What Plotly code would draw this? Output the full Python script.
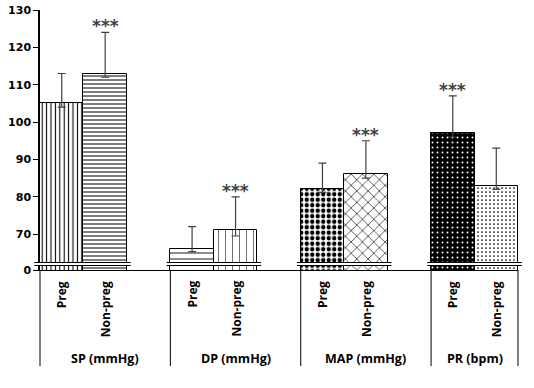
import plotly.graph_objects as go

# ---- data ----
categories = ["SP (mmHg)", "DP (mmHg)", "MAP (mmHg)", "PR (bpm)"]
groups = ["Preg", "Non-preg"]
preg_means = [105, 66, 82, 97]
nonpreg_means = [113, 71, 86, 83]
preg_sd = [8, 6, 7, 10]
nonpreg_sd = [11, 9, 9, 10]
preg_low = [1, 0.7, 0.8, 1]
nonpreg_low = [1, 1.5, 1, 1]
preg_sig = ["", "", "", "***"]
nonpreg_sig = ["***", "***", "***", ""]
y_ticks = [70, 80, 90, 100, 110, 120, 130]
y_zero_pos = 60.4  # where the broken axis shows "0"

# ---- layout helpers ----
W, H = 534, 388
L, R, T, B = 40, 16, 10, 118
ph = H - T - B
nslots = 11

xs, ys, ers, erm, sig = [], [], [], [], []
for i in range(len(categories)):
    xs += [3 * i, 3 * i + 1]
    ys += [preg_means[i], nonpreg_means[i]]
    ers += [preg_sd[i], nonpreg_sd[i]]
    erm += [preg_low[i], nonpreg_low[i]]
    sig += [preg_sig[i], nonpreg_sig[i]]

shapes_ = ["|", "-", "-", "|", ".", "x", ".", "."]
fg = ["black", "black", "black", "#333333", "black", "black", "white", "black"]
bg = ["white", "white", "white", "white", "white", "white", "black", "white"]
sizes = [4.4, 4, 6, 7, 5.5, 8, 5, 4]
solid = [0.25, 0.25, 0.15, 0.1, 0.5, 0.15, 0.12, 0.15]

fig = go.Figure()
fig.add_trace(go.Bar(
    x=xs, y=ys, width=1,
    marker=dict(color="white", line=dict(color="black", width=1),
                pattern=dict(shape=shapes_, fgcolor=fg, bgcolor=bg, size=sizes,
                             solidity=solid, fillmode="replace")),
    error_y=dict(type="data", array=ers, arrayminus=erm, symmetric=False,
                 color="#404040", thickness=1.2, width=4),
    showlegend=False, hoverinfo="skip",
))

ann = []
for x, y, e, s in zip(xs, ys, ers, sig):
    if s:
        ann.append(dict(x=x, y=y + e, text=s, showarrow=False, yanchor="bottom", yshift=-6,
                        font=dict(family="DejaVu Sans", size=17, color="#404040", weight="bold")))

def py2paper(py):
    return (T + ph - py) / ph

def sx2paper(sx):
    return (sx + 0.5) / nslots

for i, c in enumerate(categories):
    for j, g in enumerate(groups):
        ann.append(dict(x=3 * i + j, y=py2paper(279), xref="x", yref="paper", text=g,
                        textangle=-90, showarrow=False, yanchor="top", xanchor="center",
                        font=dict(family="Open Sans", size=12, color="black", weight="bold")))
    lo = 3 * i - 0.5
    hi = min(3 * i + 2.5, nslots - 0.5)
    ann.append(dict(x=(lo + hi) / 2, y=py2paper(358), xref="x", yref="paper", text=c,
                    showarrow=False, yanchor="middle",
                    font=dict(family="Open Sans", size=12.5, color="black", weight="bold")))

shapes = []
bounds = [-0.5, 2.5, 5.5, 8.5, 10.5]
for b in bounds:
    shapes.append(dict(type="line", xref="paper", yref="paper", x0=sx2paper(b), x1=sx2paper(b),
                       y0=0, y1=py2paper(366), line=dict(color="black", width=1)))
# axis break
y_a, y_b = py2paper(262.5), py2paper(265.5)
shapes.append(dict(type="rect", xref="paper", yref="paper", x0=-0.02, x1=1.02, y0=y_b, y1=y_a,
                   fillcolor="white", line=dict(width=0), layer="above"))
for i in range(len(categories)):
    lo = 3 * i - 0.5
    hi = 3 * i + 1.5
    for yy in (y_a, y_b):
        shapes.append(dict(type="line", xref="paper", yref="paper", x0=sx2paper(lo) - 0.008,
                           x1=sx2paper(hi) + 0.008, y0=yy, y1=yy, line=dict(color="black", width=1)))
for yy in (y_a, y_b):
    shapes.append(dict(type="line", xref="paper", yref="paper", x0=-0.012, x1=0.012,
                       y0=yy, y1=yy, line=dict(color="black", width=1)))

fig.update_layout(
    width=W, height=H, margin=dict(l=L, r=R, t=T, b=B, autoexpand=False),
    plot_bgcolor="white", paper_bgcolor="white",
    xaxis=dict(range=[-0.5, nslots - 0.5], showticklabels=False, ticks="", showgrid=False,
               zeroline=False, showline=True, linecolor="black", linewidth=1, automargin=False),
    yaxis=dict(range=[y_zero_pos, 130], tickvals=[y_zero_pos] + y_ticks,
               ticktext=["0"] + [str(v) for v in y_ticks], ticks="outside", ticklen=5,
               tickcolor="black", showgrid=False, zeroline=False, showline=True,
               linecolor="black", linewidth=1.5, automargin=False,
               tickfont=dict(family="DejaVu Sans", size=11, color="black", weight="bold")),
    annotations=ann, shapes=shapes, bargap=0,
)
fig.write_html("out.html", config={"displayModeBar": False},
               post_script="document.body.style.margin='0';document.body.style.overflow='hidden';")
